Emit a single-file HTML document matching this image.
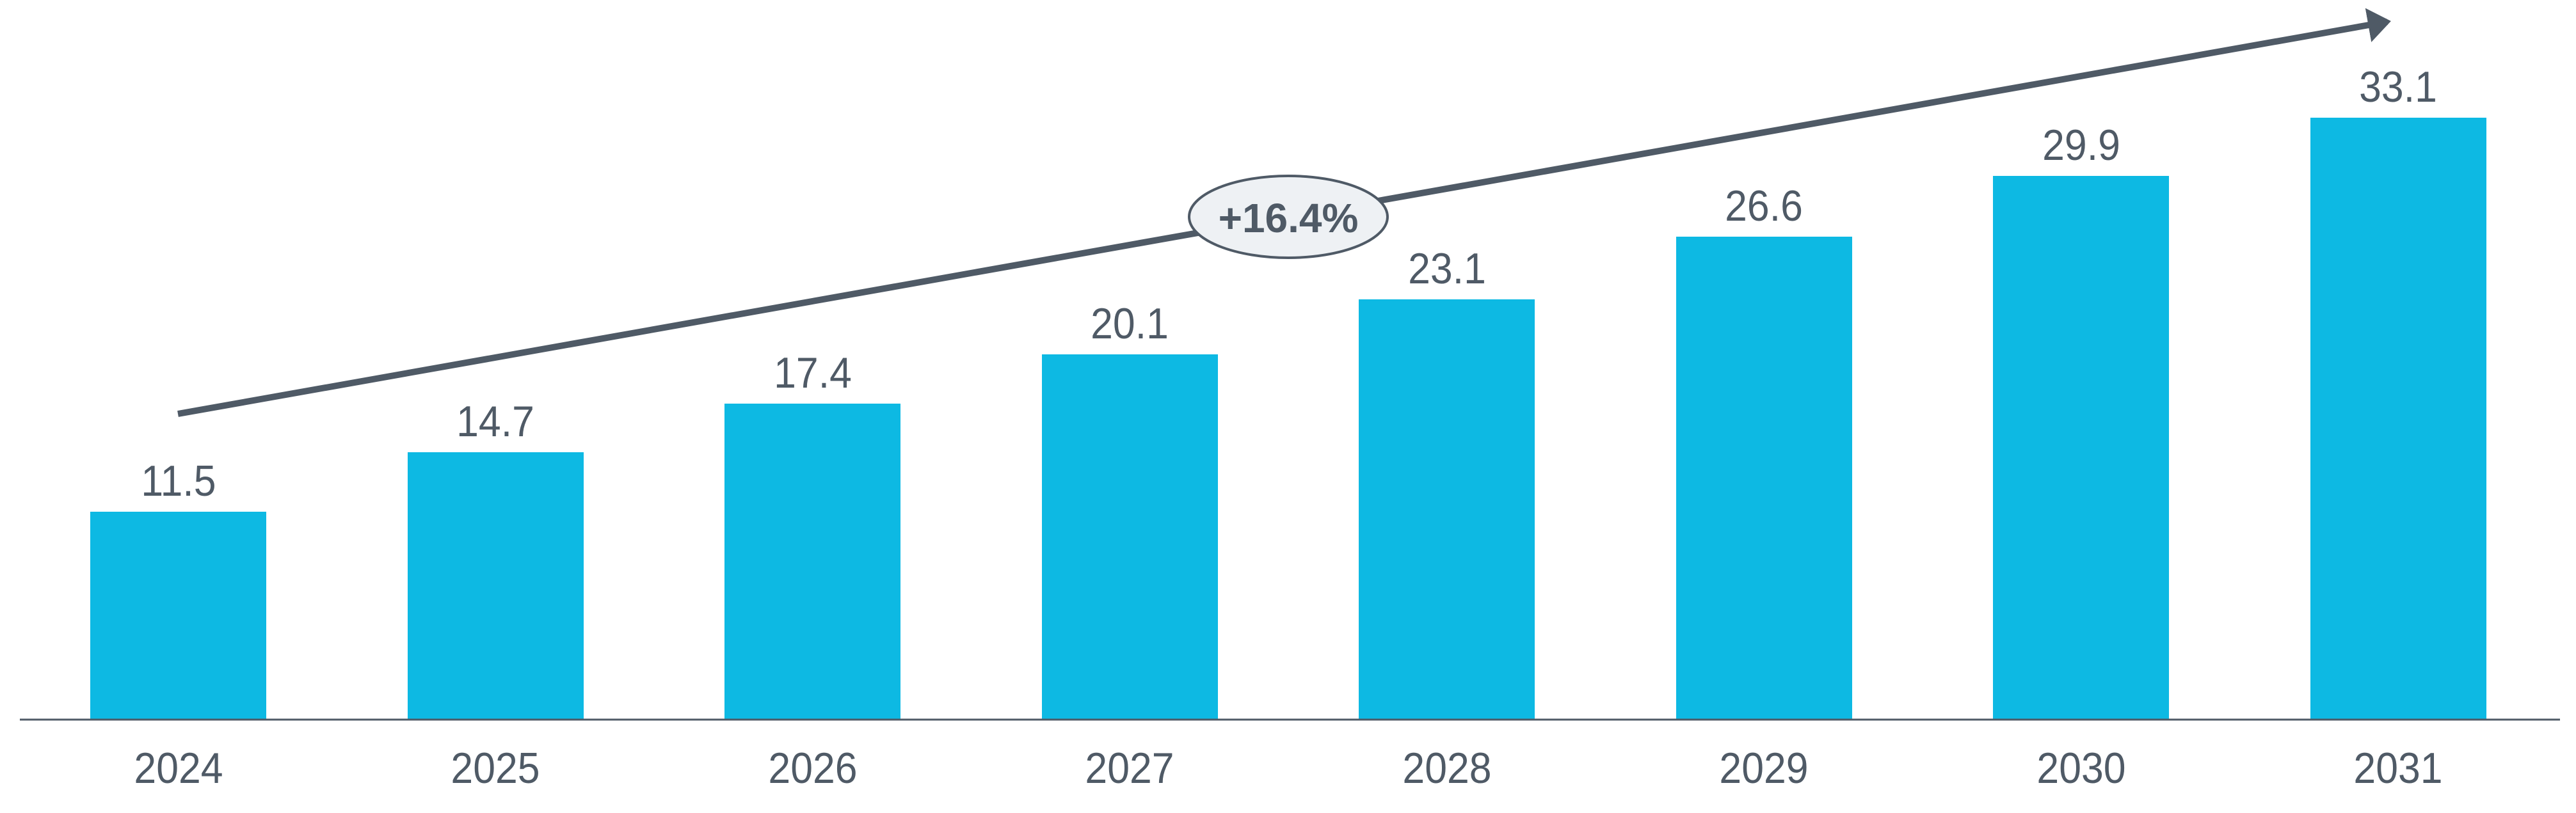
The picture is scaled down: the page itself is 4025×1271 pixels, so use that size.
<!DOCTYPE html>
<html><head><meta charset="utf-8"><style>html,body{margin:0;padding:0;background:#fff}svg{display:block}</style></head>
<body>
<svg width="4025" height="1271" viewBox="0 0 4025 1271" xmlns="http://www.w3.org/2000/svg" font-family="Liberation Sans, Arial, sans-serif">
<defs><marker id="ah" markerWidth="6" markerHeight="6" refX="3" refY="3" orient="auto" markerUnits="strokeWidth"><path d="M0,0.3 L3.6,3 L0,5.7 Z" fill="#4f5a66"/></marker></defs>
<g fill="#0db9e3">
<rect x="141" y="800" width="275" height="324"/>
<rect x="637" y="707" width="275" height="417"/>
<rect x="1132" y="631" width="275" height="493"/>
<rect x="1628" y="554" width="275" height="570"/>
<rect x="2123" y="468" width="275" height="656"/>
<rect x="2619" y="370" width="275" height="754"/>
<rect x="3114" y="275" width="275" height="849"/>
<rect x="3610" y="184" width="275" height="940"/>
</g>
<line x1="31" y1="1125" x2="4000" y2="1125" stroke="#4f5a66" stroke-width="3"/>
<g fill="#4f5a66" font-size="68" text-anchor="middle">
<text x="279" y="775" transform="scale(0.92,1)" transform-origin="279 775">11.5</text>
<text x="774" y="682" transform="scale(0.92,1)" transform-origin="774 682">14.7</text>
<text x="1270" y="606" transform="scale(0.92,1)" transform-origin="1270 606">17.4</text>
<text x="1765" y="529" transform="scale(0.92,1)" transform-origin="1765 529">20.1</text>
<text x="2261" y="443" transform="scale(0.92,1)" transform-origin="2261 443">23.1</text>
<text x="2756" y="345" transform="scale(0.92,1)" transform-origin="2756 345">26.6</text>
<text x="3252" y="250" transform="scale(0.92,1)" transform-origin="3252 250">29.9</text>
<text x="3747" y="159" transform="scale(0.92,1)" transform-origin="3747 159">33.1</text>
<text x="279" y="1224" transform="scale(0.92,1)" transform-origin="279 1224">2024</text>
<text x="774" y="1224" transform="scale(0.92,1)" transform-origin="774 1224">2025</text>
<text x="1270" y="1224" transform="scale(0.92,1)" transform-origin="1270 1224">2026</text>
<text x="1765" y="1224" transform="scale(0.92,1)" transform-origin="1765 1224">2027</text>
<text x="2261" y="1224" transform="scale(0.92,1)" transform-origin="2261 1224">2028</text>
<text x="2756" y="1224" transform="scale(0.92,1)" transform-origin="2756 1224">2029</text>
<text x="3252" y="1224" transform="scale(0.92,1)" transform-origin="3252 1224">2030</text>
<text x="3747" y="1224" transform="scale(0.92,1)" transform-origin="3747 1224">2031</text>
</g>
<line x1="278" y1="647" x2="3730" y2="34" stroke="#4f5a66" stroke-width="10" marker-end="url(#ah)"/>
<ellipse cx="2013" cy="339" rx="155" ry="64" fill="#eef1f4" stroke="#4f5a66" stroke-width="4"/>
<text x="2013" y="363" font-size="64" font-weight="bold" fill="#4f5a66" text-anchor="middle">+16.4%</text>
</svg>
</body></html>
